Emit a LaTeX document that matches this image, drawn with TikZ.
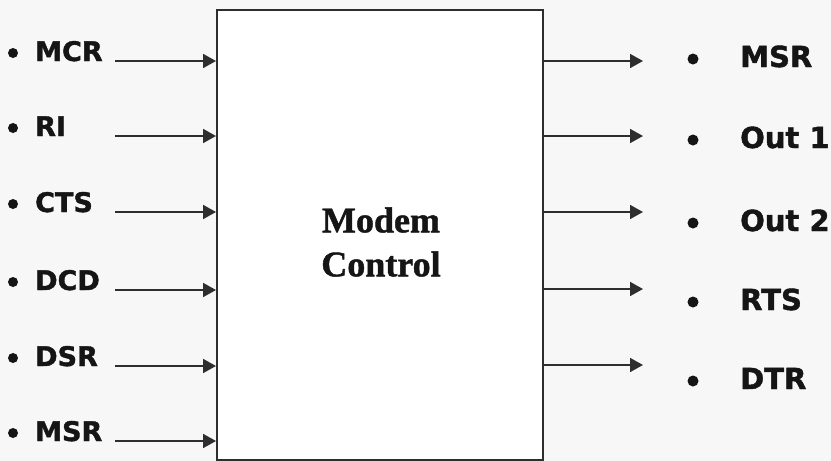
\documentclass[tikz,border=0pt]{standalone}
\usepackage{fontspec}
\setmainfont{Liberation Serif}[BoldFeatures={FakeBold=1.2}]
\newfontfamily\lblfont{DejaVu Sans}[BoldFeatures={FakeBold=1.5}]
\usetikzlibrary{arrows.meta}
\definecolor{ink}{HTML}{151515}
\definecolor{linec}{HTML}{2E2E2E}
\definecolor{bg}{HTML}{F7F7F7}
\tikzset{
  lbl/.style={font=\lblfont\bfseries\fontsize{27}{30}\selectfont, text=ink, inner sep=0pt, anchor=base west},
  rlbl/.style={lbl, font=\lblfont\bfseries\fontsize{29}{32}\selectfont},
  sig/.style={draw=linec, line width=1.8pt, -{Triangle[length=13pt,width=14pt]}},
  blt/.style={fill=ink},
  ctrl/.style={draw=linec, line width=1.8pt, fill=white, minimum width=326pt, minimum height=450pt, inner sep=0pt, anchor=north west},
  title/.style={font=\bfseries\fontsize{36}{44}\selectfont, text=ink, align=center, inner sep=0pt}
}
\begin{document}
\begin{tikzpicture}[x=1pt,y=-1pt]
\fill[bg] (0,0) rectangle (831,461);
\useasboundingbox (0,0) rectangle (831,461);
\node[ctrl] (box) at (216,9) {};
\node[title] (t) at (381,242) {Modem\\Control};
% left inputs
\foreach \name/\txt/\yy in {i1/MCR/61, i2/RI/136, i3/CTS/212, i4/DCD/290, i5/DSR/366, i6/MSR/441}{
  \fill[blt] (13,\yy-8) circle (5pt);
  \node[lbl] (\name) at (35,\yy) {\txt};
  \coordinate (\name s) at (115,\yy);
  \draw[sig] (\name s) -- (box.west |- \name s);
}
% right outputs
\foreach \name/\txt/\ay/\ty in {o1/MSR/61/67, o2/Out 1/136/148, o3/Out 2/212/231, o4/RTS/289/310, o5/DTR/365/389}{
  \fill[blt] (693,\ty-8) circle (5.5pt);
  \node[rlbl] (\name) at (740,\ty) {\txt};
  \coordinate (\name e) at (643,\ay);
  \draw[sig] (box.east |- \name e) -- (\name e);
}
\end{tikzpicture}
\end{document}
